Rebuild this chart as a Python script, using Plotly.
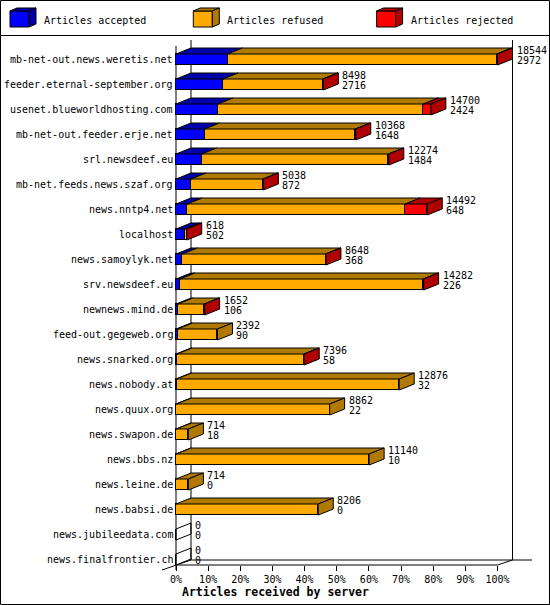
import plotly.graph_objects as go

# innfeed style: articles offered per outgoing peer
servers = [
    "mb-net-out.news.weretis.net", "feeder.eternal-september.org",
    "usenet.blueworldhosting.com", "mb-net-out.feeder.erje.net",
    "srl.newsdeef.eu", "mb-net.feeds.news.szaf.org", "news.nntp4.net",
    "localhost", "news.samoylyk.net", "srv.newsdeef.eu", "newnews.mind.de",
    "feed-out.gegeweb.org", "news.snarked.org", "news.nobody.at",
    "news.quux.org", "news.swapon.de", "news.bbs.nz", "news.leine.de",
    "news.babsi.de", "news.jubileedata.com", "news.finalfrontier.ch",
]
offered = [18544, 8498, 14700, 10368, 12274, 5038, 14492, 618, 8648, 14282,
           1652, 2392, 7396, 12876, 8862, 714, 11140, 714, 8206, 0, 0]
accepted = [2972, 2716, 2424, 1648, 1484, 872, 648, 502, 368, 226,
            106, 90, 58, 32, 22, 18, 10, 0, 0, 0, 0]
rejected = [45, 25, 430, 25, 20, 15, 1270, 10, 15, 20,
            10, 0, 10, 0, 0, 0, 0, 0, 0, 0, 0]
refused = [o - a - r for o, a, r in zip(offered, accepted, rejected)]
x_ticks = [0, 10, 20, 30, 40, 50, 60, 70, 80, 90, 100]
x_ticktext = [f"{t}%" for t in x_ticks]
legend_names = ["Articles accepted", "Articles refused", "Articles rejected"]

W, H = 550, 605
FONT = "DejaVu Sans Mono"
BLUE, BLUE_D = "#0000FF", "#0000AA"
ORANGE, ORANGE_D = "#FFAA00", "#B07A00"
RED, RED_D = "#FF0000", "#B00000"

# pixel layout of the plot (margins are zero, so the axes span the page)
X0, PPU = 176.0, 3.215      # px of 0%, px per percent
ROW0, PITCH = 59.5, 25.0    # px of first row, px per row
DX, DY = 15 / PPU, 6 / PITCH
BAR_H = 11 / PITCH


def dx(px):
    return (px - X0) / PPU


def dy(py):
    return (py - ROW0) / PITCH


def pct(v):
    return v / max(offered) * 100


rows = list(range(len(servers)))
fig = go.Figure()

# front faces
for vals, col in [(accepted, BLUE), (refused, ORANGE), (rejected, RED)]:
    fig.add_trace(go.Bar(
        y=rows, x=[pct(v) for v in vals], orientation="h", width=BAR_H,
        marker=dict(color=col, line=dict(color="black", width=1)),
        showlegend=False, hoverinfo="skip"))

# top faces and end faces
tops = {BLUE_D: ([], []), ORANGE_D: ([], []), RED_D: ([], [])}
sides = {BLUE_D: ([], []), ORANGE_D: ([], []), RED_D: ([], [])}
empty_x, empty_y = [], []
for i in rows:
    yt, yb = i - BAR_H / 2, i + BAR_H / 2
    bounds = [0, accepted[i], accepted[i] + refused[i], offered[i]]
    last = None
    for k, col in enumerate([BLUE_D, ORANGE_D, RED_D]):
        a, b = pct(bounds[k]), pct(bounds[k + 1])
        if b - a <= 0:
            continue
        last = col
        tx, ty = tops[col]
        tx += [a, b, b + DX, a + DX, a, None]
        ty += [yt, yt, yt - DY, yt - DY, yt, None]
    e = pct(offered[i])
    px_ = [e, e + DX, e + DX, e, e, None]
    py_ = [yt, yt - DY, yb - DY, yb, yt, None]
    if last is None:
        empty_x += px_
        empty_y += py_
    else:
        sides[last][0].extend(px_)
        sides[last][1].extend(py_)

for faces in (tops, sides):
    for col, (fx, fy) in faces.items():
        if fx:
            fig.add_trace(go.Scatter(
                x=fx, y=fy, mode="lines", fill="toself", fillcolor=col,
                line=dict(color="black", width=1), showlegend=False,
                hoverinfo="skip"))
fig.add_trace(go.Scatter(x=empty_x, y=empty_y, mode="lines",
                         line=dict(color="black", width=1), showlegend=False,
                         hoverinfo="skip"))

annotations = []
for i in rows:
    annotations.append(dict(x=0, y=i, text=servers[i], xanchor="right",
                            yanchor="middle", xshift=-1, showarrow=False))
    ex = pct(offered[i]) + DX
    annotations.append(dict(x=ex, y=i - 0.37, text=str(offered[i]),
                            xanchor="left", yanchor="middle", xshift=2,
                            showarrow=False))
    annotations.append(dict(x=ex, y=i + 0.05, text=str(accepted[i]),
                            xanchor="left", yanchor="middle", xshift=2,
                            showarrow=False))

annotations.append(dict(x=180 / W, y=1 - 592 / H, xref="paper", yref="paper",
                        text="<b>Articles received by server</b>",
                        xanchor="left", yanchor="middle", showarrow=False,
                        font=dict(family=FONT, size=11.5, color="black")))

# legend
def ppath(pts):
    return "M " + " L ".join(f"{x / W:.5f},{1 - y / H:.5f}" for x, y in pts) + " Z"


shapes = []
for k, (col, dark) in enumerate([(BLUE, BLUE_D), (ORANGE, ORANGE_D), (RED, RED_D)]):
    lx = 10 + 183.3 * k
    for pts, c in [
        ([(lx, 11), (lx + 19, 11), (lx + 19, 27), (lx, 27)], col),
        ([(lx, 11), (lx + 7, 8), (lx + 26, 8), (lx + 19, 11)], dark),
        ([(lx + 19, 11), (lx + 26, 8), (lx + 26, 24), (lx + 19, 27)], dark),
    ]:
        shapes.append(dict(type="path", xref="paper", yref="paper",
                           path=ppath(pts), fillcolor=c,
                           line=dict(color="black", width=1)))
    annotations.append(dict(x=(lx + 34) / W, y=1 - 20 / H, xref="paper",
                            yref="paper", text=legend_names[k], xanchor="left",
                            yanchor="middle", xshift=-2, showarrow=False))

# frame and separator
shapes.append(dict(type="rect", xref="paper", yref="paper",
                   x0=0.5 / W, x1=1 - 0.5 / W, y0=0.5 / H, y1=1 - 0.5 / H,
                   line=dict(color="black", width=1)))
shapes.append(dict(type="line", xref="paper", yref="paper",
                   x0=0, x1=1, y0=1 - 35.5 / H, y1=1 - 35.5 / H,
                   line=dict(color="black", width=1)))

# walls and floor
floor_f, floor_b = dy(565), dy(560)
wall_lines = [
    (0, dy(46), 0, dy(570)),
    (DX, dy(40), DX, floor_b),
    (100 + DX, dy(40), 100 + DX, floor_b),
    (0, floor_f, 100, floor_f),
    (DX, floor_b, dx(532), floor_b),
    (dx(162), dy(570), DX, floor_b),
    (100, floor_f, 100 + DX, floor_b),
]
for x0, y0, x1, y1 in wall_lines:
    shapes.append(dict(type="line", xref="x", yref="y", x0=x0, y0=y0,
                       x1=x1, y1=y1, layer="below",
                       line=dict(color="black", width=1)))

fig.update_layout(
    width=W, height=H, barmode="stack", bargap=0,
    margin=dict(l=0, r=0, t=0, b=0, autoexpand=False),
    paper_bgcolor="white", plot_bgcolor="white",
    font=dict(family=FONT, size=10, color="black"),
    xaxis=dict(range=[dx(0), dx(W)], showgrid=False, zeroline=False,
               showline=False, tickvals=x_ticks, ticktext=x_ticktext,
               ticks="outside", ticklen=5, tickcolor="black",
               anchor="free", position=1 - 565 / H,
               tickfont=dict(family=FONT, size=10)),
    yaxis=dict(range=[dy(H), dy(0)], visible=False),
    shapes=shapes, annotations=annotations,
)

# the page body has a default 8px margin; drop it so the chart fills the window
fig.write_html("out.html", config={"displayModeBar": False},
               post_script="document.body.style.margin='0';")
